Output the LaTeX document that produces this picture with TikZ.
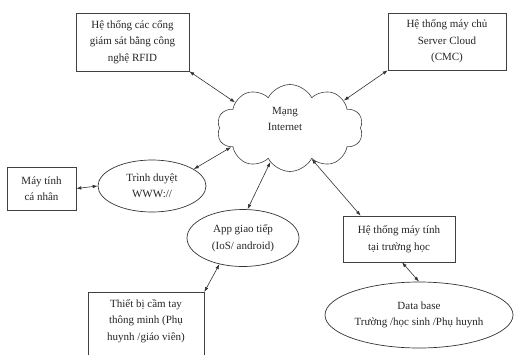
\documentclass[tikz,border=0pt]{standalone}
\usepackage{fontspec}
\setmainfont{Liberation Serif}
\usetikzlibrary{shapes.geometric,shapes.symbols,arrows.meta}
\begin{document}
\begin{tikzpicture}[x=1pt,y=-1pt,
  every node/.style={font=\fontsize{11}{16.5}\selectfont, align=center, text=black!85},
  boxnode/.style={draw=black!75, line width=0.6pt, rectangle, inner sep=0pt},
  ellnode/.style={draw=black!80, line width=0.7pt, ellipse, inner sep=0pt},
  link/.style={line width=0.6pt, draw=black!80, {Latex[length=5pt,width=3.5pt]}-{Latex[length=5pt,width=3.5pt]}}]
\useasboundingbox (0,0) rectangle (514,354);
\fill[white] (0,0) rectangle (514,354);

\node[boxnode, minimum width=113pt, minimum height=58pt] (rfid) at (132.5,42) {Hệ thống các cổng\\giám sát bằng công\\nghệ RFID};
\node[boxnode, minimum width=118pt, minimum height=57pt] (srv) at (447,41.5) {Hệ thống máy chủ\\Server Cloud\\(CMC)};
\node[cloud, draw=black!75, line width=0.6pt, cloud puffs=10, cloud puff arc=125, aspect=1.7, inner sep=0pt, minimum width=146pt, minimum height=87pt] (net) at (290,128) {};
\node (nettext) at (285,119) {Mạng\\Internet};
\node[boxnode, minimum width=69pt, minimum height=43pt] (pc) at (41.5,188.5) {Máy tính\\cá nhân};
\node[ellnode, minimum width=108pt, minimum height=52pt] (tr) at (152,186) {Trình duyệt\\WWW://};
\node[ellnode, minimum width=112pt, minimum height=57pt] (app) at (243,238) {App giao tiếp\\(IoS/ android)};
\node[boxnode, minimum width=112pt, minimum height=46pt] (ht) at (399,239) {Hệ thống máy tính\\tại trường học};
\node[ellnode, minimum width=188pt, minimum height=66pt] (db) at (419,315) {Data base\\Trường /học sinh /Phụ huynh};
\node[boxnode, anchor=north, minimum width=116pt, minimum height=72pt] (tb) at (146,292) {};
\node (tbtext) at (146,321) {Thiết bị cầm tay\\thông minh (Phụ\\huynh /giáo viên)};

\draw[link] (rfid.south east) -- (net.155);
\draw[link] (srv.south west) -- (net.27);
\draw[link] (tr.22) -- (net.198);
\draw[link] (pc.east) -- (tr.west);
\draw[link] (app.81) -- (net.240);
\draw[link] ([xshift=18pt]ht.north west) -- (net.305);
\draw[link] (app.228) -- (tb.north east);
\draw[link] ([xshift=3pt]ht.south) -- (db.north);
\end{tikzpicture}
\end{document}
